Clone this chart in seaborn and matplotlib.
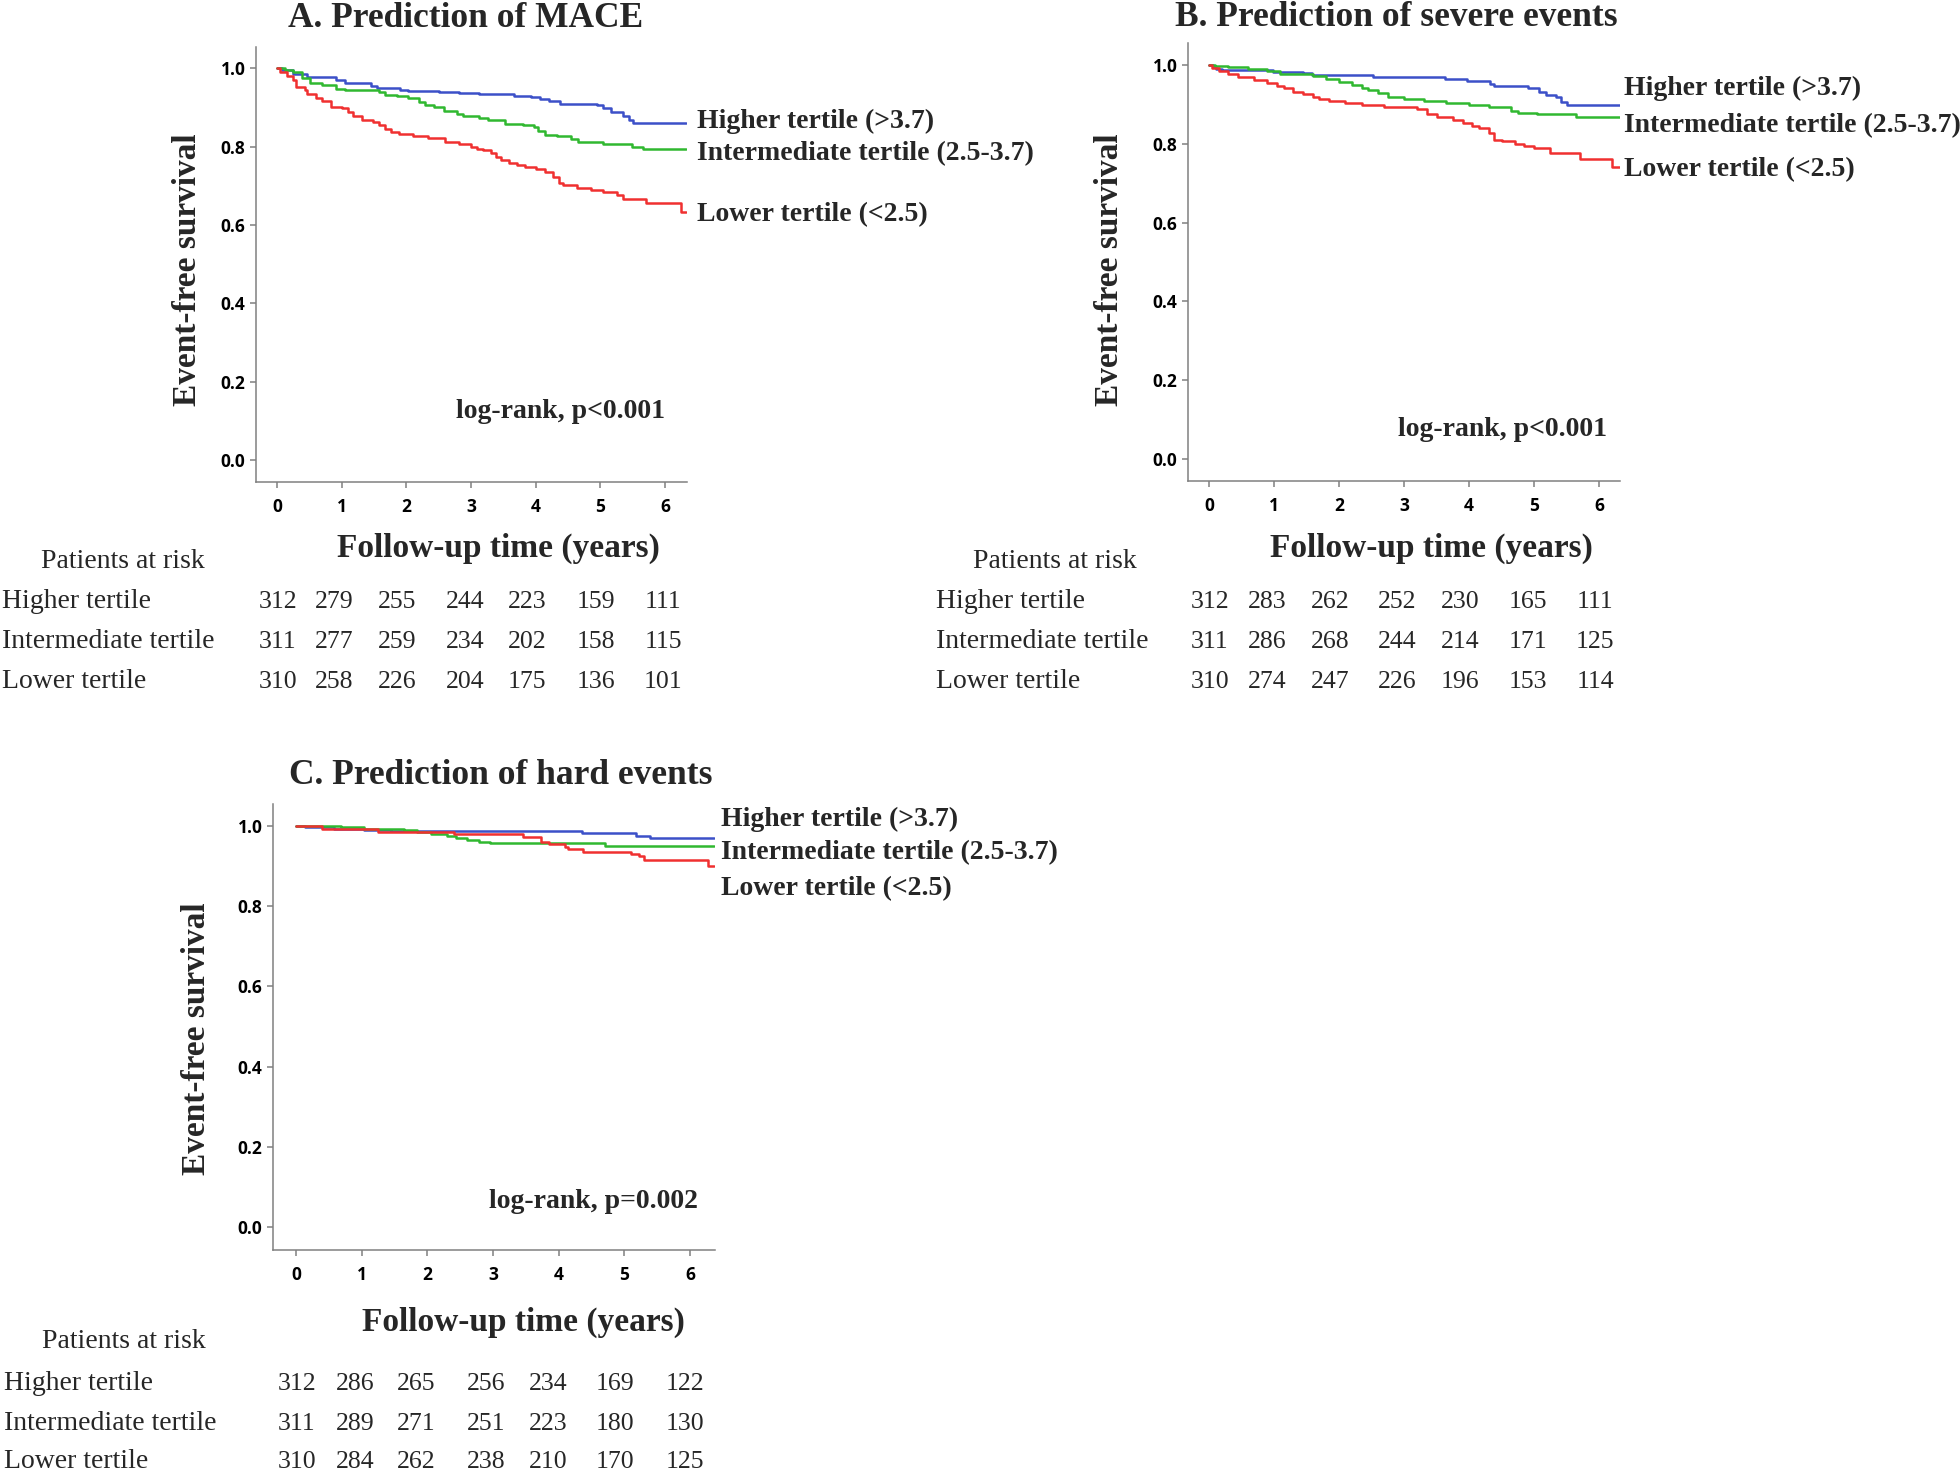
import numpy as np
import pandas as pd
import matplotlib
matplotlib.use("Agg")
import matplotlib.pyplot as plt
import seaborn as sns

# ---------------- DATA ----------------
groups = ["Higher tertile (>3.7)", "Intermediate tertile (2.5-3.7)", "Lower tertile (<2.5)"]
row_names = ["Higher tertile", "Intermediate tertile", "Lower tertile"]
panel_titles = ["A. Prediction of MACE", "B. Prediction of severe events", "C. Prediction of hard events"]
logrank_texts = ["log-rank, p<0.001", "log-rank, p<0.001", "log-rank, p=0.002"]
x_ticks = [0, 1, 2, 3, 4, 5, 6]
y_ticks = [0.0, 0.2, 0.4, 0.6, 0.8, 1.0]

# Panel A (MACE) step curves: change times (years) and survival after each change
a_high_t = [0, 0.07, 0.25, 0.47, 0.91, 1.05, 1.45, 1.54, 1.9, 2.02, 2.5, 2.82, 3.13, 3.67, 3.93, 4.07, 4.2, 4.38, 4.95, 5.04, 5.17, 5.35, 5.44, 5.51, 6.33]
a_high_s = [1.0, 0.995, 0.985, 0.977, 0.971, 0.963, 0.955, 0.95, 0.945, 0.942, 0.94, 0.936, 0.934, 0.93, 0.926, 0.921, 0.916, 0.908, 0.906, 0.899, 0.888, 0.877, 0.869, 0.86, 0.86]
a_mid_t = [0, 0.12, 0.25, 0.38, 0.51, 0.69, 0.91, 1.05, 1.58, 1.67, 1.85, 2.02, 2.2, 2.29, 2.42, 2.58, 2.78, 2.87, 3.13, 3.27, 3.53, 3.8, 3.98, 4.04, 4.15, 4.33, 4.55, 4.66, 5.04, 5.49, 5.66, 6.33]
a_mid_s = [1.0, 0.995, 0.99, 0.975, 0.962, 0.958, 0.948, 0.945, 0.94, 0.932, 0.928, 0.923, 0.913, 0.907, 0.901, 0.89, 0.884, 0.879, 0.873, 0.867, 0.858, 0.855, 0.85, 0.84, 0.829, 0.826, 0.82, 0.811, 0.806, 0.8, 0.795, 0.795]
a_low_t = [0, 0.04, 0.16, 0.25, 0.29, 0.43, 0.47, 0.6, 0.69, 0.83, 1.0, 1.09, 1.18, 1.31, 1.49, 1.58, 1.67, 1.76, 1.89, 2.11, 2.33, 2.6, 2.82, 3.0, 3.09, 3.18, 3.31, 3.38, 3.47, 3.58, 3.71, 3.84, 4.0, 4.15, 4.27, 4.36, 4.43, 4.64, 4.86, 5.04, 5.26, 5.35, 5.71, 6.24, 6.33]
a_low_s = [1.0, 0.99, 0.981, 0.969, 0.953, 0.945, 0.935, 0.924, 0.915, 0.902, 0.898, 0.887, 0.877, 0.867, 0.862, 0.855, 0.845, 0.837, 0.833, 0.826, 0.821, 0.812, 0.806, 0.8, 0.795, 0.79, 0.784, 0.773, 0.765, 0.758, 0.753, 0.748, 0.742, 0.735, 0.722, 0.707, 0.701, 0.695, 0.69, 0.683, 0.676, 0.666, 0.657, 0.633, 0.633]

# Panel B (severe events)
b_high_t = [0, 0.06, 0.11, 0.21, 0.98, 1.45, 1.58, 2.52, 3.63, 3.97, 4.32, 4.38, 4.91, 5.07, 5.19, 5.34, 5.41, 5.5, 6.32]
b_high_s = [1.0, 0.995, 0.991, 0.987, 0.983, 0.981, 0.975, 0.97, 0.965, 0.96, 0.953, 0.947, 0.941, 0.932, 0.924, 0.918, 0.907, 0.899, 0.899]
b_mid_t = [0, 0.09, 0.3, 0.6, 0.9, 1.1, 1.6, 1.8, 2.0, 2.2, 2.35, 2.45, 2.6, 2.75, 3.0, 3.3, 3.65, 4.0, 4.3, 4.65, 4.75, 5.05, 5.65, 6.32]
b_mid_s = [1.0, 0.997, 0.995, 0.99, 0.985, 0.978, 0.971, 0.964, 0.958, 0.949, 0.941, 0.937, 0.928, 0.92, 0.914, 0.91, 0.904, 0.899, 0.893, 0.884, 0.879, 0.876, 0.869, 0.869]
b_low_t = [0, 0.05, 0.15, 0.3, 0.45, 0.7, 0.9, 1.05, 1.15, 1.3, 1.45, 1.6, 1.7, 1.85, 2.1, 2.35, 2.7, 3.2, 3.35, 3.5, 3.75, 3.9, 4.05, 4.15, 4.3, 4.38, 4.5, 4.7, 4.85, 5.0, 5.25, 5.7, 6.2, 6.32]
b_low_s = [1.0, 0.993, 0.985, 0.978, 0.969, 0.962, 0.954, 0.948, 0.941, 0.932, 0.926, 0.92, 0.914, 0.91, 0.904, 0.899, 0.894, 0.888, 0.877, 0.867, 0.86, 0.852, 0.845, 0.839, 0.827, 0.811, 0.806, 0.8, 0.795, 0.789, 0.776, 0.762, 0.74, 0.74]

# Panel C (hard events)
c_high_t = [0, 0.13, 0.58, 1.04, 1.45, 2.0, 4.36, 5.17, 5.39, 6.37]
c_high_s = [1.0, 0.997, 0.993, 0.99, 0.988, 0.9875, 0.982, 0.976, 0.969, 0.969]
c_mid_t = [0, 0.68, 1.04, 1.65, 1.85, 2.05, 2.3, 2.43, 2.6, 2.78, 2.96, 4.7, 6.37]
c_mid_s = [1.0, 0.998, 0.993, 0.99, 0.985, 0.98, 0.975, 0.969, 0.965, 0.96, 0.957, 0.951, 0.951]
c_low_t = [0, 0.4, 1.25, 2.4, 3.45, 3.73, 3.86, 4.09, 4.14, 4.37, 5.1, 5.22, 5.3, 6.27, 6.37]
c_low_s = [1.0, 0.992, 0.986, 0.98, 0.973, 0.961, 0.955, 0.948, 0.943, 0.936, 0.93, 0.925, 0.915, 0.9, 0.9]

# Patients at risk
a_risk = [[312, 279, 255, 244, 223, 159, 111],
          [311, 277, 259, 234, 202, 158, 115],
          [310, 258, 226, 204, 175, 136, 101]]
b_risk = [[312, 283, 262, 252, 230, 165, 111],
          [311, 286, 268, 244, 214, 171, 125],
          [310, 274, 247, 226, 196, 153, 114]]
c_risk = [[312, 286, 265, 256, 234, 169, 122],
          [311, 289, 271, 251, 223, 180, 130],
          [310, 284, 262, 238, 210, 170, 125]]

# ---------------- STYLE / LAYOUT ----------------
W, H = 1960, 1474
sns.set_theme(style="white")
plt.rcParams["font.family"] = ["Liberation Serif", "DejaVu Serif"]
SERIF = ["Liberation Serif", "DejaVu Serif"]
SANS = ["Open Sans", "DejaVu Sans"]
palette = {groups[0]: "#3c50c8", groups[1]: "#30b830", groups[2]: "#f03030"}
spine_col = "#808080"

fig = plt.figure(figsize=(W / 100, H / 100), dpi=100)
fig.patch.set_facecolor("white")


def fx(x):
    return x / W


def fy(y):
    return 1 - y / H


panels = [
    dict(box=(256, 687, 47, 482), xlim=(-0.325, 6.34), ylim=(-0.056, 1.054),
         curves=[(a_high_t, a_high_s), (a_mid_t, a_mid_s), (a_low_t, a_low_s)], risk=a_risk,
         title=(466, 27), lab_x=697, lab_y=[121, 154, 215], lr=(561, 411), ylab=(187, 270), xlab=(498, 548),
         par=(123, 568), row_x=2, row_y=[608, 648, 688], cols=[278, 334, 397, 465, 527, 596, 663]),
    dict(box=(1188, 1620, 43, 481), xlim=(-0.32, 6.32), ylim=(-0.056, 1.056),
         curves=[(b_high_t, b_high_s), (b_mid_t, b_mid_s), (b_low_t, b_low_s)], risk=b_risk,
         title=(1396, 26), lab_x=1624, lab_y=[88, 126, 170], lr=(1502, 429), ylab=(1109, 270), xlab=(1431, 548),
         par=(1055, 568), row_x=936, row_y=[608, 648, 688], cols=[1210, 1267, 1330, 1397, 1460, 1528, 1595]),
    dict(box=(273, 715, 804, 1250), xlim=(-0.35, 6.38), ylim=(-0.057, 1.055),
         curves=[(c_high_t, c_high_s), (c_mid_t, c_mid_s), (c_low_t, c_low_s)], risk=c_risk,
         title=(501, 784), lab_x=721, lab_y=[819, 853, 889], lr=(593, 1201), ylab=(196, 1039), xlab=(523, 1322),
         par=(124, 1348), row_x=4, row_y=[1390, 1430, 1468], cols=[297, 355, 416, 486, 548, 615, 685]),
]

for i, p in enumerate(panels):
    l, r, t, b = p["box"]
    ax = fig.add_axes([fx(l), fy(b), (r - l) / W, (b - t) / H])
    ax.set_facecolor("white")
    frames = []
    for g, (tt, ss) in zip(groups, p["curves"]):
        frames.append(pd.DataFrame({"time": tt, "surv": ss, "group": g}))
    df = pd.concat(frames, ignore_index=True)
    sns.lineplot(data=df, x="time", y="surv", hue="group", palette=palette, estimator=None,
                 drawstyle="steps-post", linewidth=1.8, legend=False, ax=ax)
    ax.set_xlim(*p["xlim"])
    ax.set_ylim(*p["ylim"])
    ax.set_xticks(x_ticks)
    ax.set_yticks(y_ticks)
    ax.set_xticklabels([str(v) for v in x_ticks], fontfamily=SANS, fontweight="bold", fontsize=12.5)
    ax.set_yticklabels([f"{v:.1f}" for v in y_ticks], fontfamily=SANS, fontweight="bold", fontsize=12.5)
    ax.set_xlabel("")
    ax.set_ylabel("")
    for s in ["top", "right"]:
        ax.spines[s].set_visible(False)
    for s in ["left", "bottom"]:
        ax.spines[s].set_color(spine_col)
        ax.spines[s].set_linewidth(1.1)
    ax.tick_params(axis="both", which="both", direction="out", length=4.5, width=1.1,
                   color=spine_col, labelcolor="black", left=True, bottom=True)
    ax.tick_params(axis="y", pad=3)
    ax.tick_params(axis="x", pad=7)

    # title
    fig.text(fx(p["title"][0]), fy(p["title"][1]), panel_titles[i], ha="center", va="baseline",
             fontsize=25.5, fontweight="bold", family=SERIF)
    # curve labels
    for g, yy in zip(groups, p["lab_y"]):
        fig.text(fx(p["lab_x"]), fy(yy), g, ha="left", va="center", fontsize=20,
                 fontweight="bold", family=SERIF)
    # log-rank
    fig.text(fx(p["lr"][0]), fy(p["lr"][1]), logrank_texts[i], ha="center", va="center",
             fontsize=20, fontweight="bold", family=SERIF)
    # axis labels
    fig.text(fx(p["ylab"][0]), fy(p["ylab"][1]), "Event-free survival", rotation=90,
             ha="center", va="center", fontsize=24, fontweight="bold", family=SERIF)
    fig.text(fx(p["xlab"][0]), fy(p["xlab"][1]), "Follow-up time (years)",
             ha="center", va="center", fontsize=24, fontweight="bold", family=SERIF)
    # patients at risk table
    fig.text(fx(p["par"][0]), fy(p["par"][1]), "Patients at risk", ha="center", va="baseline",
             fontsize=20, family=SERIF)
    for name, yy, vals in zip(row_names, p["row_y"], p["risk"]):
        fig.text(fx(p["row_x"]), fy(yy), name, ha="left", va="baseline", fontsize=20, family=SERIF)
        for cx, v in zip(p["cols"], vals):
            fig.text(fx(cx), fy(yy), str(v), ha="center", va="baseline", fontsize=18.5, family=SERIF)

fig.savefig("out.png", dpi=100, facecolor="white")
